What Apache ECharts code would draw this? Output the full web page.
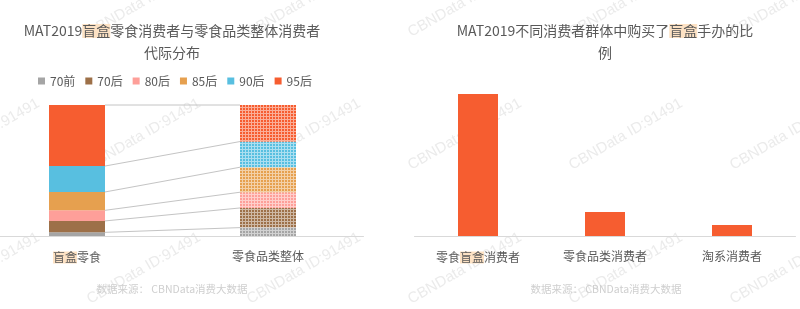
<!DOCTYPE html>
<html>
<head>
<meta charset="utf-8">
<script src="https://cdn.jsdelivr.net/npm/echarts@6/dist/echarts.min.js"></script>
<style>
html,body{margin:0;padding:0;background:#fff;}
#chart{width:800px;height:309px;}
</style>
</head>
<body>
<div id="chart"></div>
<script>
// ---- data ----
const generations = ['70前', '70后', '80后', '85后', '90后', '95后'];
const leftCategories = ['盲盒零食', '零食品类整体'];
const blindBoxSnackShare = [2.8, 8.7, 8.1, 14.0, 19.8, 46.6];
const snackCategoryShare = [6.4, 15.0, 12.0, 19.1, 19.6, 27.9];
const rightCategories = ['零食盲盒消费者', '零食品类消费者', '淘系消费者'];
const figurePurchaseRate = [14.2, 2.4, 1.1];
const leftTitle = 'MAT2019盲盒零食消费者与零食品类整体消费者\n代际分布';
const rightTitle = 'MAT2019不同消费者群体中购买了盲盒手办的比\n例';
const sourceText = '数据来源： CBNData消费大数据';
const watermarkText = 'CBNData ID:91491';

// ---- styling ----
const genColors = ['#a5a5a5', '#9d7048', '#fe9f99', '#e6a04f', '#58bfe0', '#f65d30'];
const textColor = '#595959';
const cjk = '"Noto Sans CJK SC", "Noto Sans", sans-serif';
const hlBg = '#fde2c4';
const hl = s => s.replace('盲盒', '{hl|盲盒}');

// cumulative boundaries for connector lines
const boundaries = [];
let cl = 0, cr = 0;
for (let i = 0; i < generations.length; i++) {
  cl += blindBoxSnackShare[i];
  cr += snackCategoryShare[i];
  boundaries.push([leftCategories[0], cl, cr]);
}

const barSeries = generations.map((g, i) => ({
  name: g,
  type: 'bar',
  stack: 'gen',
  xAxisIndex: 0,
  yAxisIndex: 0,
  barWidth: 56,
  z: 3,
  itemStyle: { color: genColors[i] },
  data: [
    blindBoxSnackShare[i],
    {
      value: snackCategoryShare[i],
      itemStyle: {
        color: echarts.color.lerp(0.5, [genColors[i], '#ffffff']),
        decal: {
          symbol: 'rect', symbolSize: 1,
          dashArrayX: [2, 1], dashArrayY: [2, 1],
          color: genColors[i], rotation: 0
        }
      }
    }
  ]
}));

// watermarks
const wm = [];
const wmXs = [-69, 92, 252, 413, 574, 735];
const wmYs = [40, 173, 307];
wmYs.forEach(y => wmXs.forEach(x => {
  wm.push({
    type: 'text', x: x, y: y, rotation: Math.PI / 6, z: 0, silent: true,
    style: {
      text: watermarkText, fill: '#ebebeb',
      font: '15px "Liberation Sans", Arial, sans-serif',
      textAlign: 'left', textVerticalAlign: 'bottom'
    }
  });
}));

const titleStyle = {
  color: textColor, fontSize: 14, fontWeight: 'normal', fontFamily: cjk, lineHeight: 22,
  rich: { hl: { backgroundColor: hlBg, color: textColor, fontSize: 14, fontFamily: cjk, lineHeight: 19 } }
};
const axisLabelStyle = {
  color: textColor, fontSize: 12, fontFamily: cjk, margin: 14, interval: 0,
  formatter: v => hl(v),
  rich: { hl: { backgroundColor: hlBg, color: textColor, fontSize: 12, fontFamily: cjk, lineHeight: 15 } }
};

const chart = echarts.init(document.getElementById('chart'), null, { renderer: 'canvas' });
chart.setOption({
  animation: false,
  backgroundColor: '#fff',
  title: [
    { text: hl(leftTitle), left: 172, top: 20, textAlign: 'center', padding: 0, textStyle: titleStyle },
    { text: hl(rightTitle), left: 605, top: 20, textAlign: 'center', padding: 0, textStyle: titleStyle },
    { text: sourceText, left: 172, top: 284, textAlign: 'center', padding: 0,
      textStyle: { color: '#cfcfcf', fontSize: 10.5, fontWeight: 'normal', fontFamily: cjk } },
    { text: sourceText, left: 606, top: 284, textAlign: 'center', padding: 0,
      textStyle: { color: '#cfcfcf', fontSize: 10.5, fontWeight: 'normal', fontFamily: cjk } }
  ],
  legend: {
    data: generations, left: 38, top: 75, padding: 0,
    icon: 'rect', itemWidth: 7, itemHeight: 7, itemGap: 10,
    textStyle: { color: textColor, fontSize: 12, fontFamily: cjk }
  },
  graphic: wm,
  grid: [
    { left: -18.5, width: 382, top: 105, bottom: 73, outerBoundsMode: 'none', containLabel: false },
    { left: 414.5, right: 4.5, top: 80, bottom: 73, outerBoundsMode: 'none', containLabel: false }
  ],
  xAxis: [
    { type: 'category', gridIndex: 0, data: leftCategories,
      axisLine: { lineStyle: { color: '#d9d9d9' } }, axisTick: { show: false }, axisLabel: axisLabelStyle },
    { type: 'category', gridIndex: 1, data: rightCategories,
      axisLine: { lineStyle: { color: '#d9d9d9' } }, axisTick: { show: false }, axisLabel: axisLabelStyle }
  ],
  yAxis: [
    { type: 'value', gridIndex: 0, min: 0, max: 100, show: false, splitLine: { show: false } },
    { type: 'value', gridIndex: 1, min: 0, max: 15.6, show: false, splitLine: { show: false } }
  ],
  series: barSeries.concat([
    {
      type: 'custom', xAxisIndex: 0, yAxisIndex: 0, z: 2, silent: true,
      encode: { x: 0, y: 1 },
      renderItem: (params, api) => {
        const l = api.coord([0, api.value(1)]);
        const r = api.coord([1, api.value(2)]);
        const hw = 28;
        return {
          type: 'line',
          shape: { x1: l[0] + hw, y1: l[1], x2: r[0] - hw, y2: r[1] },
          style: { stroke: '#c4c4c4', lineWidth: 1 }
        };
      },
      data: boundaries
    },
    {
      type: 'bar', xAxisIndex: 1, yAxisIndex: 1, barWidth: 40, z: 3,
      itemStyle: { color: '#f65d30' },
      data: figurePurchaseRate
    }
  ])
});
</script>
</body>
</html>
